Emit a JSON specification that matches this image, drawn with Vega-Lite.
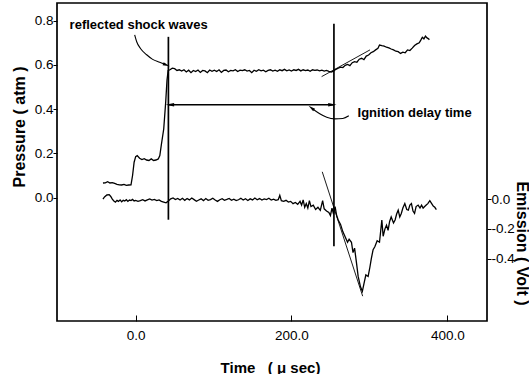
{
  "$schema": "https://vega.github.io/schema/vega-lite/v6.json",
  "width": 430,
  "height": 318,
  "autosize": "none",
  "padding": {"left": 57, "top": 3, "right": 42, "bottom": 53},
  "background": "#ffffff",
  "config": {
    "view": {"stroke": "#000000", "strokeWidth": 1.7},
    "font": "Liberation Sans",
    "axis": {"labelColor": "#000000", "titleColor": "#000000", "tickColor": "#000000", "domain": false, "grid": false, "labelFont": "Liberation Sans", "titleFont": "Liberation Sans"}
  },
  "datasets": {
    "pressure": [
      {"t":-42,"p":0.066},{"t":-39,"p":0.067},{"t":-36,"p":0.072},{"t":-33,"p":0.066},{"t":-30,"p":0.068},{"t":-27,"p":0.064},{"t":-24,"p":0.060},{"t":-21,"p":0.058},{"t":-18,"p":0.057},{"t":-15,"p":0.060},{"t":-12,"p":0.055},{"t":-9,"p":0.057},{"t":-6,"p":0.058},{"t":-4,"p":0.10},{"t":-2,"p":0.16},{"t":0,"p":0.185},{"t":2,"p":0.19},{"t":5,"p":0.178},{"t":8,"p":0.172},{"t":11,"p":0.176},{"t":14,"p":0.170},{"t":17,"p":0.168},{"t":20,"p":0.175},{"t":23,"p":0.168},{"t":26,"p":0.170},{"t":29,"p":0.175},{"t":31,"p":0.19},{"t":33,"p":0.24},{"t":36,"p":0.31},{"t":38.5,"p":0.43},{"t":40.2,"p":0.53},{"t":41.7,"p":0.575},{"t":44,"p":0.578},{"t":47,"p":0.585},{"t":50,"p":0.583},{"t":53,"p":0.575},{"t":56,"p":0.578},{"t":59,"p":0.572},{"t":62,"p":0.578},{"t":65,"p":0.568},{"t":68,"p":0.576},{"t":71,"p":0.565},{"t":74,"p":0.575},{"t":77,"p":0.57},{"t":80,"p":0.577},{"t":83,"p":0.566},{"t":86,"p":0.575},{"t":89,"p":0.573},{"t":92,"p":0.565},{"t":95,"p":0.577},{"t":98,"p":0.571},{"t":101,"p":0.576},{"t":104,"p":0.57},{"t":107,"p":0.578},{"t":110,"p":0.566},{"t":113,"p":0.575},{"t":116,"p":0.577},{"t":119,"p":0.569},{"t":122,"p":0.575},{"t":125,"p":0.573},{"t":128,"p":0.578},{"t":131,"p":0.57},{"t":134,"p":0.576},{"t":137,"p":0.574},{"t":140,"p":0.578},{"t":143,"p":0.572},{"t":146,"p":0.575},{"t":149,"p":0.565},{"t":152,"p":0.576},{"t":155,"p":0.571},{"t":158,"p":0.578},{"t":161,"p":0.573},{"t":164,"p":0.576},{"t":167,"p":0.569},{"t":170,"p":0.575},{"t":173,"p":0.578},{"t":176,"p":0.572},{"t":179,"p":0.576},{"t":182,"p":0.571},{"t":185,"p":0.578},{"t":188,"p":0.574},{"t":191,"p":0.58},{"t":194,"p":0.573},{"t":197,"p":0.577},{"t":200,"p":0.572},{"t":203,"p":0.578},{"t":206,"p":0.575},{"t":209,"p":0.58},{"t":212,"p":0.573},{"t":215,"p":0.578},{"t":218,"p":0.574},{"t":221,"p":0.577},{"t":224,"p":0.571},{"t":227,"p":0.578},{"t":230,"p":0.575},{"t":233,"p":0.577},{"t":236,"p":0.573},{"t":239,"p":0.576},{"t":242,"p":0.572},{"t":245,"p":0.575},{"t":248,"p":0.571},{"t":251,"p":0.568},{"t":254,"p":0.572},{"t":257,"p":0.58},{"t":260,"p":0.585},{"t":263,"p":0.59},{"t":266,"p":0.588},{"t":269,"p":0.598},{"t":272,"p":0.602},{"t":275,"p":0.597},{"t":278,"p":0.61},{"t":281,"p":0.615},{"t":284,"p":0.612},{"t":287,"p":0.626},{"t":290,"p":0.63},{"t":293,"p":0.624},{"t":296,"p":0.64},{"t":299,"p":0.645},{"t":302,"p":0.655},{"t":305,"p":0.66},{"t":308,"p":0.668},{"t":311,"p":0.675},{"t":313,"p":0.69},{"t":316,"p":0.687},{"t":319,"p":0.685},{"t":322,"p":0.68},{"t":325,"p":0.677},{"t":328,"p":0.672},{"t":331,"p":0.668},{"t":334,"p":0.662},{"t":337,"p":0.66},{"t":340,"p":0.652},{"t":343,"p":0.658},{"t":346,"p":0.655},{"t":349,"p":0.668},{"t":352,"p":0.665},{"t":355,"p":0.676},{"t":358,"p":0.688},{"t":361,"p":0.695},{"t":364,"p":0.70},{"t":366,"p":0.712},{"t":368,"p":0.725},{"t":370,"p":0.718},{"t":372,"p":0.73},{"t":374,"p":0.722},{"t":376,"p":0.718},{"t":377,"p":0.714}
    ],
    "emission": [
      {"t":-42,"e":0.0},{"t":-40,"e":0.015},{"t":-37,"e":0.028},{"t":-34,"e":0.03},{"t":-32,"e":0.018},{"t":-30,"e":0.0},{"t":-28,"e":-0.012},{"t":-26,"e":-0.02},{"t":-24,"e":-0.008},{"t":-22,"e":-0.015},{"t":-20,"e":-0.005},{"t":-18,"e":-0.018},{"t":-16,"e":-0.008},{"t":-14,"e":-0.012},{"t":-12,"e":-0.004},{"t":-10,"e":-0.015},{"t":-8,"e":-0.006},{"t":-6,"e":-0.01},{"t":-4,"e":-0.002},{"t":-2,"e":-0.012},{"t":0,"e":-0.008},{"t":3,"e":-0.015},{"t":6,"e":-0.01},{"t":9,"e":-0.004},{"t":12,"e":-0.012},{"t":15,"e":-0.005},{"t":18,"e":0.002},{"t":21,"e":-0.006},{"t":24,"e":-0.002},{"t":27,"e":-0.01},{"t":30,"e":-0.005},{"t":33,"e":-0.015},{"t":36,"e":-0.02},{"t":39,"e":-0.025},{"t":42,"e":-0.012},{"t":45,"e":0.002},{"t":48,"e":0.008},{"t":51,"e":-0.003},{"t":54,"e":0.005},{"t":57,"e":-0.006},{"t":60,"e":0.006},{"t":63,"e":-0.008},{"t":66,"e":0.004},{"t":69,"e":-0.005},{"t":72,"e":0.008},{"t":75,"e":-0.003},{"t":78,"e":-0.014},{"t":81,"e":-0.006},{"t":84,"e":0.002},{"t":87,"e":-0.01},{"t":90,"e":0.004},{"t":93,"e":-0.008},{"t":96,"e":-0.003},{"t":99,"e":0.006},{"t":102,"e":-0.006},{"t":105,"e":-0.015},{"t":108,"e":-0.004},{"t":111,"e":0.003},{"t":114,"e":-0.008},{"t":117,"e":-0.002},{"t":120,"e":0.005},{"t":123,"e":-0.008},{"t":126,"e":0.0},{"t":129,"e":-0.01},{"t":132,"e":-0.004},{"t":135,"e":0.006},{"t":138,"e":-0.006},{"t":141,"e":0.003},{"t":144,"e":-0.009},{"t":147,"e":0.002},{"t":150,"e":-0.005},{"t":153,"e":0.008},{"t":156,"e":-0.004},{"t":159,"e":0.004},{"t":162,"e":-0.006},{"t":165,"e":0.002},{"t":168,"e":-0.003},{"t":171,"e":0.006},{"t":174,"e":-0.006},{"t":177,"e":0.0},{"t":180,"e":-0.008},{"t":183,"e":-0.004},{"t":185,"e":0.025},{"t":187,"e":-0.01},{"t":190,"e":-0.015},{"t":193,"e":-0.008},{"t":196,"e":-0.02},{"t":199,"e":-0.015},{"t":202,"e":-0.03},{"t":205,"e":-0.022},{"t":208,"e":-0.035},{"t":211,"e":-0.015},{"t":213,"e":-0.04},{"t":215,"e":-0.005},{"t":217,"e":-0.055},{"t":219,"e":-0.03},{"t":221,"e":-0.06},{"t":223,"e":-0.01},{"t":225,"e":-0.05},{"t":228,"e":-0.04},{"t":231,"e":-0.07},{"t":234,"e":-0.055},{"t":237,"e":-0.075},{"t":240,"e":-0.01},{"t":242,"e":-0.065},{"t":245,"e":-0.08},{"t":248,"e":-0.09},{"t":250,"e":-0.11},{"t":252,"e":-0.06},{"t":254,"e":-0.1},{"t":256,"e":-0.05},{"t":258,"e":-0.11},{"t":260,"e":-0.14},{"t":263,"e":-0.17},{"t":266,"e":-0.22},{"t":269,"e":-0.255},{"t":272,"e":-0.29},{"t":274,"e":-0.27},{"t":277,"e":-0.29},{"t":279,"e":-0.36},{"t":281,"e":-0.33},{"t":283.5,"e":-0.43},{"t":285.6,"e":-0.52},{"t":288.6,"e":-0.59},{"t":291,"e":-0.62},{"t":293,"e":-0.57},{"t":295.5,"e":-0.51},{"t":298.4,"e":-0.52},{"t":300.6,"e":-0.46},{"t":302.5,"e":-0.4},{"t":304.8,"e":-0.34},{"t":307,"e":-0.32},{"t":310,"e":-0.28},{"t":313,"e":-0.29},{"t":316,"e":-0.14},{"t":317.7,"e":-0.25},{"t":320,"e":-0.2},{"t":322,"e":-0.175},{"t":324,"e":-0.21},{"t":326,"e":-0.15},{"t":328,"e":-0.12},{"t":331,"e":-0.16},{"t":333,"e":-0.14},{"t":335,"e":-0.1},{"t":337,"e":-0.074},{"t":339,"e":-0.12},{"t":341,"e":-0.096},{"t":343,"e":-0.06},{"t":345.5,"e":-0.03},{"t":348,"e":-0.07},{"t":350,"e":-0.074},{"t":352,"e":-0.04},{"t":354,"e":-0.03},{"t":356,"e":-0.08},{"t":358,"e":-0.096},{"t":360,"e":-0.05},{"t":362.6,"e":-0.04},{"t":365,"e":-0.06},{"t":367,"e":-0.04},{"t":369,"e":-0.06},{"t":371,"e":-0.05},{"t":373,"e":-0.04},{"t":375,"e":-0.03},{"t":377.6,"e":-0.01},{"t":380,"e":-0.03},{"t":382,"e":-0.047},{"t":384,"e":-0.055},{"t":386,"e":-0.07}
    ],
    "vlines": [{"t":42,"p":-0.10,"p2":0.727},{"t":254.5,"p":-0.22,"p2":0.786}],
    "harrow": [{"t":42,"t2":254.5,"p":0.42}],
    "headLeft": [{"t":44,"p":0.42}],
    "headRight": [{"t":252.5,"p":0.42}],
    "ptangent": [{"t":238.7,"p":0.547},{"t":300.8,"p":0.668}],
    "etangent": [{"t":239.5,"e":0.184},{"t":291.4,"e":-0.653}],
    "curve1": [{"t":-1.3,"p":0.736},{"t":1.3,"p":0.705},{"t":6.4,"p":0.673},{"t":14.1,"p":0.646},{"t":21.8,"p":0.625},{"t":30.8,"p":0.612},{"t":38.5,"p":0.602}],
    "head1": [{"t":39.5,"p":0.600}],
    "curve2": [{"t":273.6,"p":0.370},{"t":265.9,"p":0.358},{"t":255.6,"p":0.356},{"t":245.3,"p":0.363},{"t":236.3,"p":0.379},{"t":228.6,"p":0.397}],
    "head2": [{"t":225.5,"p":0.406}],
    "labels": [{"t":-84.8,"p":0.762,"label":"reflected shock waves"},{"t":284.8,"p":0.365,"label":"Ignition delay time"}]
  },
  "encoding": {
    "x": {"field": "t", "type": "quantitative",
      "scale": {"domain": [-101, 451], "nice": false, "zero": false},
      "axis": {"values": [0, 200, 400], "format": ".1f", "tickSize": -6, "labelPadding": 13, "labelFontSize": 13.5,
        "title": "Time\u00a0\u00a0\u00a0( μ sec)", "titleFontSize": 15, "titleFontWeight": "bold", "titleX": 213, "titleY": 51, "titleBaseline": "alphabetic", "titleAnchor": "middle"}
    }
  },
  "layer": [
    {
      "encoding": {
        "y": {"field": "p", "type": "quantitative",
          "scale": {"domain": [-0.558, 0.88], "nice": false, "zero": false},
          "axis": {"values": [0, 0.2, 0.4, 0.6, 0.8], "format": ".1f", "tickSize": 4, "labelPadding": 0, "labelFontSize": 13.5,
            "title": "Pressure ( atm )", "titleFontSize": 16, "titleFontWeight": "bold", "titleAngle": 270, "titleX": -33, "titleY": 123.5, "titleBaseline": "alphabetic", "titleAlign": "center"}
        }
      },
      "layer": [
        {"data": {"name": "pressure"}, "mark": {"type": "line", "color": "#000000", "strokeWidth": 1.3}},
        {"data": {"name": "vlines"}, "mark": {"type": "rule", "color": "#000000", "strokeWidth": 1.7}, "encoding": {"y2": {"field": "p2"}}},
        {"data": {"name": "harrow"}, "mark": {"type": "rule", "color": "#000000", "strokeWidth": 1.5}, "encoding": {"x2": {"field": "t2"}}},
        {"data": {"name": "headLeft"}, "mark": {"type": "point", "shape": "M1,0L-1,-0.4L-1,0.4Z", "angle": 180, "size": 70, "filled": true, "color": "#000000", "opacity": 1}},
        {"data": {"name": "headRight"}, "mark": {"type": "point", "shape": "M1,0L-1,-0.4L-1,0.4Z", "angle": 0, "size": 70, "filled": true, "color": "#000000", "opacity": 1}},
        {"data": {"name": "ptangent"}, "mark": {"type": "line", "color": "#000000", "strokeWidth": 0.9}},
        {"data": {"name": "curve1"}, "mark": {"type": "line", "color": "#000000", "strokeWidth": 1.1, "interpolate": "monotone"}},
        {"data": {"name": "head1"}, "mark": {"type": "point", "shape": "M1,0L-1,-0.45L-1,0.45Z", "angle": 20, "size": 50, "filled": true, "color": "#000000", "opacity": 1}},
        {"data": {"name": "curve2"}, "mark": {"type": "line", "color": "#000000", "strokeWidth": 1.1, "interpolate": "monotone"}},
        {"data": {"name": "head2"}, "mark": {"type": "point", "shape": "M1,0L-1,-0.45L-1,0.45Z", "angle": 218, "size": 50, "filled": true, "color": "#000000", "opacity": 1}},
        {"data": {"name": "labels"}, "mark": {"type": "text", "align": "left", "baseline": "alphabetic", "fontSize": 13, "fontWeight": "bold", "color": "#000000"}, "encoding": {"text": {"field": "label"}}}
      ]
    },
    {
      "encoding": {
        "y": {"field": "e", "type": "quantitative",
          "scale": {"domain": [-0.82, 1.32], "nice": false, "zero": false},
          "axis": {"orient": "right", "values": [0, -0.2, -0.4], "format": ".1f", "labelExpr": "replace(datum.label, '\u2212', '-')", "tickSize": 4, "labelPadding": 0, "labelFontSize": 13.5,
            "title": "Emission ( Volt )", "titleFontSize": 16, "titleFontWeight": "bold", "titleAngle": 90, "titleX": 29, "titleY": 240, "titleBaseline": "alphabetic", "titleAlign": "center"}
        }
      },
      "layer": [
        {"data": {"name": "emission"}, "mark": {"type": "line", "color": "#000000", "strokeWidth": 1.3}},
        {"data": {"name": "etangent"}, "mark": {"type": "line", "color": "#000000", "strokeWidth": 0.9}}
      ]
    }
  ],
  "resolve": {"scale": {"y": "independent"}, "axis": {"y": "independent"}}
}
